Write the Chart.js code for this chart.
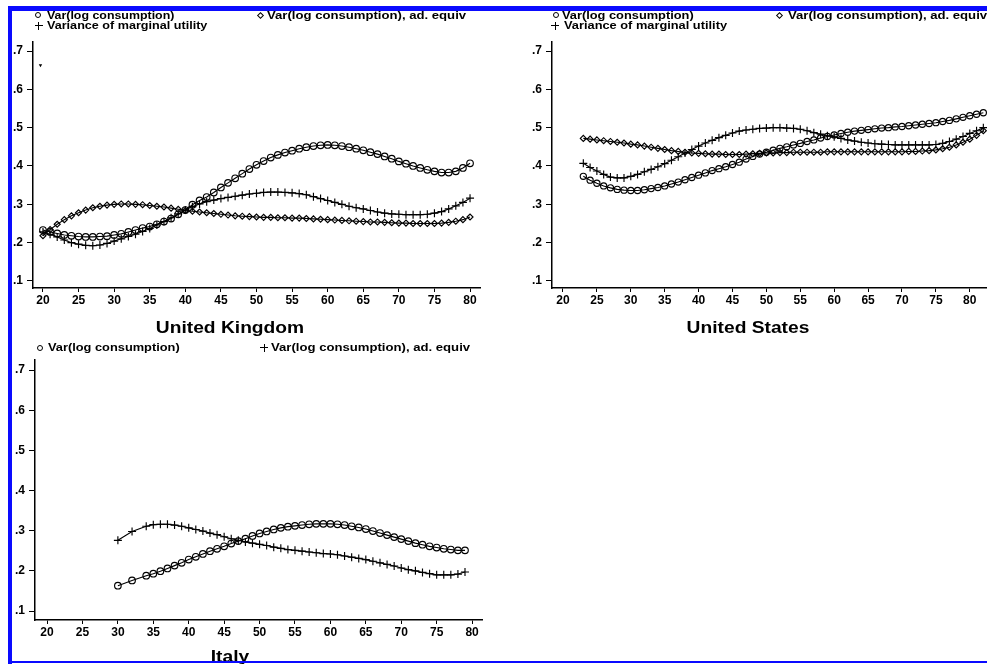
<!DOCTYPE html>
<html><head><meta charset="utf-8">
<script src="https://cdn.jsdelivr.net/npm/chart.js@4.4.1/dist/chart.umd.min.js"></script>
<style>
html,body{margin:0;padding:0;background:#fff;}
#wrap{position:relative;width:987px;height:664px;overflow:hidden;background:#fff;font-family:"Liberation Sans",Arial,sans-serif;}
canvas{position:absolute;}
.frame{position:absolute;background:#0a0aff;z-index:5;}
.lg{position:absolute;font-weight:bold;font-size:10.5px;line-height:10.5px;white-space:nowrap;transform-origin:0 0;color:#000;}
.ttl{position:absolute;width:240px;text-align:center;font-weight:bold;font-size:17px;line-height:17px;transform:scaleX(1.13);color:#000;white-space:nowrap;}
.mk{position:absolute;box-sizing:border-box;}
.mc{border:1px solid #000;border-radius:50%;width:6px;height:6px;}
.md{border:1px solid #000;width:5px;height:5px;transform:rotate(45deg);}
.mp{width:8px;height:8px;}
.mp:before,.mp:after{content:"";position:absolute;background:#000;}
.mp:before{left:0;top:3.5px;width:8px;height:1px;}
.mp:after{left:3.5px;top:0;width:1px;height:8px;}
</style>
</head>
<body>
<div id="wrap">
  <canvas id="uk" width="490" height="345" style="left:0;top:0"></canvas>
  <canvas id="us" width="531" height="345" style="left:490px;top:0"></canvas>
  <canvas id="it" width="490" height="340" style="left:0;top:335px"></canvas>

  <!-- UK legend -->
  <div class="mk mc" style="left:35px;top:12px"></div>
  <div class="lg" style="left:47px;top:10.2px;transform:scaleX(1.18)">Var(log consumption)</div>
  <div class="mk md" style="left:257.5px;top:12.5px"></div>
  <div class="lg" style="left:267px;top:10.2px;transform:scaleX(1.25)">Var(log consumption), ad. equiv</div>
  <div class="mk mp" style="left:34.5px;top:21.5px"></div>
  <div class="lg" style="left:47px;top:20.1px;transform:scaleX(1.2)">Variance of marginal utility</div>

  <!-- US legend -->
  <div class="mk mc" style="left:553px;top:12px"></div>
  <div class="lg" style="left:562px;top:10.2px;transform:scaleX(1.22)">Var(log consumption)</div>
  <div class="mk md" style="left:777px;top:12.5px"></div>
  <div class="lg" style="left:788px;top:10.2px;transform:scaleX(1.25)">Var(log consumption), ad. equiv</div>
  <div class="mk mp" style="left:551px;top:21.5px"></div>
  <div class="lg" style="left:564px;top:20.1px;transform:scaleX(1.22)">Variance of marginal utility</div>

  <!-- Italy legend -->
  <div class="mk mc" style="left:36.5px;top:344.5px"></div>
  <div class="lg" style="left:48px;top:342px;transform:scaleX(1.22)">Var(log consumption)</div>
  <div class="mk mp" style="left:260px;top:343.5px"></div>
  <div class="lg" style="left:271px;top:342px;transform:scaleX(1.25)">Var(log consumption), ad. equiv</div>

  <!-- panel titles -->
  <div class="ttl" style="left:110px;top:318.5px">United Kingdom</div>
  <div class="ttl" style="left:628px;top:318.5px">United States</div>
  <div class="ttl" style="left:110px;top:647.6px">Italy</div>

  <!-- blue frame -->
  <div class="frame" style="left:8px;top:6px;width:979px;height:5px"></div>
  <div class="frame" style="left:8px;top:6px;width:4px;height:658px"></div>
  <div class="frame" style="left:8px;top:661px;width:979px;height:2px"></div>
</div>
<script>
// ---------------- data ----------------
const yTicks = [0.1, 0.2, 0.3, 0.4, 0.5, 0.6, 0.7];
const ukXTicks = [20, 25, 30, 35, 40, 45, 50, 55, 60, 65, 70, 75, 80];
const usXTicks = [20, 25, 30, 35, 40, 45, 50, 55, 60, 65, 70, 75, 80, 85];
const itXTicks = [20, 25, 30, 35, 40, 45, 50, 55, 60, 65, 70, 75, 80];

// United Kingdom
const ukAges = [20,21,22,23,24,25,26,27,28,29,30,31,32,33,34,35,36,37,38,39,40,
  41,42,43,44,45,46,47,48,49,50,51,52,53,54,55,56,57,58,59,60,
  61,62,63,64,65,66,67,68,69,70,71,72,73,74,75,76,77,78,79,80];
const ukVarLogC = [.233,.228,.224,.220,.218,.216,.215,.215,.216,.217,.220,
  .223,.228,.233,.238,.242,.248,.255,.263,.274,.285,
  .299,.310,.319,.331,.344,.356,.368,.380,.392,.403,
  .413,.422,.429,.435,.440,.445,.449,.452,.454,.455,
  .454,.452,.449,.445,.441,.436,.431,.425,.419,.412,
  .406,.400,.395,.390,.386,.383,.383,.386,.395,.407];
const ukVarLogCAdEq = [.218,.234,.248,.260,.270,.278,.285,.291,.295,.298,.300,
  .301,.301,.300,.299,.297,.295,.293,.290,.287,.284,
  .282,.280,.278,.276,.274,.272,.270,.269,.268,.267,
  .266,.266,.265,.265,.264,.264,.263,.262,.261,.260,
  .259,.258,.257,.256,.255,.254,.254,.253,.252,.251,
  .251,.250,.250,.250,.250,.251,.253,.256,.260,.267];
const ukVarMU = [.228,.222,.215,.207,.200,.196,.193,.192,.194,.198,.204,
  .210,.216,.222,.229,.237,.246,.255,.265,.275,.285,
  .294,.301,.307,.311,.315,.318,.321,.324,.327,.329,
  .331,.332,.332,.331,.330,.328,.325,.320,.315,.310,
  .305,.300,.295,.291,.288,.284,.280,.277,.275,.274,
  .273,.273,.273,.274,.277,.281,.288,.296,.305,.316];
const ukStrayAge = [19.65];
const ukStrayVal = [0.663];

// United States
const usAges = [23,24,25,26,27,28,29,30,31,32,33,34,35,36,37,38,39,40,
  41,42,43,44,45,46,47,48,49,50,51,52,53,54,55,56,57,58,59,60,
  61,62,63,64,65,66,67,68,69,70,71,72,73,74,75,76,77,78,79,80,81,82];
const usVarLogC = [.373,.363,.355,.348,.343,.339,.337,.336,.336,.338,.341,.344,.348,.353,.358,.364,.370,.376,
  .382,.388,.393,.398,.404,.410,.418,.425,.431,.436,
  .441,.446,.450,.455,.459,.464,.468,.473,.477,.481,
  .485,.488,.491,.493,.495,.497,.499,.500,.502,.503,
  .505,.507,.509,.511,.513,.516,.519,.523,.527,.531,.535,.539];
const usVarLogCAdEq = [.472,.470,.468,.466,.464,.462,.460,.457,.455,.452,.449,.446,.443,.440,.438,.436,.434,.433,
  .432,.431,.431,.430,.430,.430,.431,.432,.433,.434,
  .434,.435,.435,.436,.436,.436,.436,.436,.437,.437,
  .437,.437,.437,.437,.437,.437,.437,.437,.437,.437,
  .438,.438,.439,.440,.442,.445,.449,.455,.462,.470,.480,.492];
const usVarMU = [.407,.396,.387,.378,.371,.369,.369,.373,.378,.385,.391,.398,.406,.415,.424,.434,.443,.452,
  .460,.467,.474,.480,.486,.491,.494,.496,.498,.499,
  .500,.500,.499,.498,.496,.492,.487,.483,.479,.476,
  .472,.468,.465,.462,.460,.458,.457,.456,.455,.455,
  .455,.455,.455,.455,.456,.459,.464,.470,.477,.485,.492,.500];

// Italy
const itAges = [30,32,34,35,36,37,38,39,40,
  41,42,43,44,45,46,47,48,49,50,51,52,53,54,55,56,57,58,59,60,
  61,62,63,64,65,66,67,68,69,70,71,72,73,74,75,76,77,78,79];
const itVarLogC = [.163,.176,.188,.193,.199,.206,.213,.220,.228,
  .235,.242,.249,.255,.261,.268,.274,.280,.287,.293,
  .298,.303,.307,.310,.312,.314,.316,.317,.317,.317,
  .316,.314,.311,.308,.304,.299,.294,.289,.284,.279,
  .274,.269,.265,.261,.258,.255,.253,.251,.251];
const itVarLogCAdEq = [.276,.298,.311,.315,.316,.316,.314,.311,.307,
  .303,.299,.294,.290,.285,.280,.276,.272,.269,.266,
  .263,.259,.256,.253,.251,.249,.247,.245,.243,.242,
  .240,.237,.234,.231,.228,.224,.220,.216,.212,.207,
  .203,.200,.196,.193,.190,.190,.190,.192,.197];

// ---------------- drawing ----------------
const FONT = '"Liberation Sans", Arial, sans-serif';

function series(ages, vals, style, r) {
  return {
    data: ages.map((a, i) => ({x: a, y: vals[i]})),
    showLine: true, borderColor: '#000', borderWidth: 1.1, tension: 0,
    pointStyle: style, pointRadius: r, pointBorderWidth: 1.15,
    pointBorderColor: '#000', pointBackgroundColor: 'rgba(0,0,0,0)'
  };
}

function axisCommon(tickLen) {
  return {
    grid: {display: true, drawOnChartArea: false, drawTicks: true, tickLength: tickLen, color: '#000', lineWidth: 1},
    border: {display: true, color: '#000', width: 1.5}
  };
}

function panel(id, o) {
  return new Chart(document.getElementById(id), {
    type: 'scatter',
    data: {datasets: o.datasets},
    options: {
      responsive: false, animation: false, events: [],
      layout: {padding: {left: 0, right: o.padR, top: o.padT, bottom: 0}},
      plugins: {legend: {display: false}, tooltip: {enabled: false}},
      scales: {
        x: Object.assign({
          type: 'linear', position: 'bottom', min: o.xmin, max: o.xmax,
          afterBuildTicks: s => { s.ticks = o.xTicks.map(v => ({value: v})); },
          afterFit: s => { s.height = o.xH; },
          ticks: {color: '#000', font: {family: FONT, size: 12, weight: 'bold'}, padding: 1,
                  maxRotation: 0, autoSkip: false, callback: v => String(v)}
        }, axisCommon(4)),
        y: Object.assign({
          type: 'linear', position: 'left', min: o.ymin, max: o.ymax,
          afterBuildTicks: s => { s.ticks = yTicks.map(v => ({value: v})); },
          afterFit: s => { s.width = o.yW; },
          ticks: {color: '#000', font: {family: FONT, size: 12, weight: 'bold'}, padding: 4,
                  callback: v => Number(v).toFixed(1).replace(/^0/, '')}
        }, axisCommon(6))
      }
    }
  });
}

const stray = {
  data: ukStrayAge.map((a, i) => ({x: a, y: ukStrayVal[i]})),
  showLine: false, pointStyle: 'triangle', rotation: 180, pointRadius: 2,
  pointBorderWidth: 0, pointBackgroundColor: '#000'
};

panel('uk', {
  datasets: [
    series(ukAges, ukVarLogC, 'circle', 3.3),
    series(ukAges, ukVarLogCAdEq, 'rectRot', 3),
    series(ukAges, ukVarMU, 'cross', 4),
    stray
  ],
  xmin: 18.6, xmax: 81.4, ymin: 0.0817, ymax: 0.7235,
  xTicks: ukXTicks, padR: 10, padT: 42, xH: 57, yW: 33
});

panel('us', {
  datasets: [
    series(usAges, usVarLogC, 'circle', 3.1),
    series(usAges, usVarLogCAdEq, 'rectRot', 3),
    series(usAges, usVarMU, 'cross', 4)
  ],
  xmin: 18.38, xmax: 86.08, ymin: 0.0817, ymax: 0.7235,
  xTicks: usXTicks, padR: 10, padT: 42, xH: 57, yW: 62
});

panel('it', {
  datasets: [
    series(itAges, itVarLogC, 'circle', 3.3),
    series(itAges, itVarLogCAdEq, 'cross', 4)
  ],
  xmin: 18.3, xmax: 81.4, ymin: 0.0776, ymax: 0.725,
  xTicks: itXTicks, padR: 8, padT: 25, xH: 55, yW: 35
});
</script>
</body></html>
